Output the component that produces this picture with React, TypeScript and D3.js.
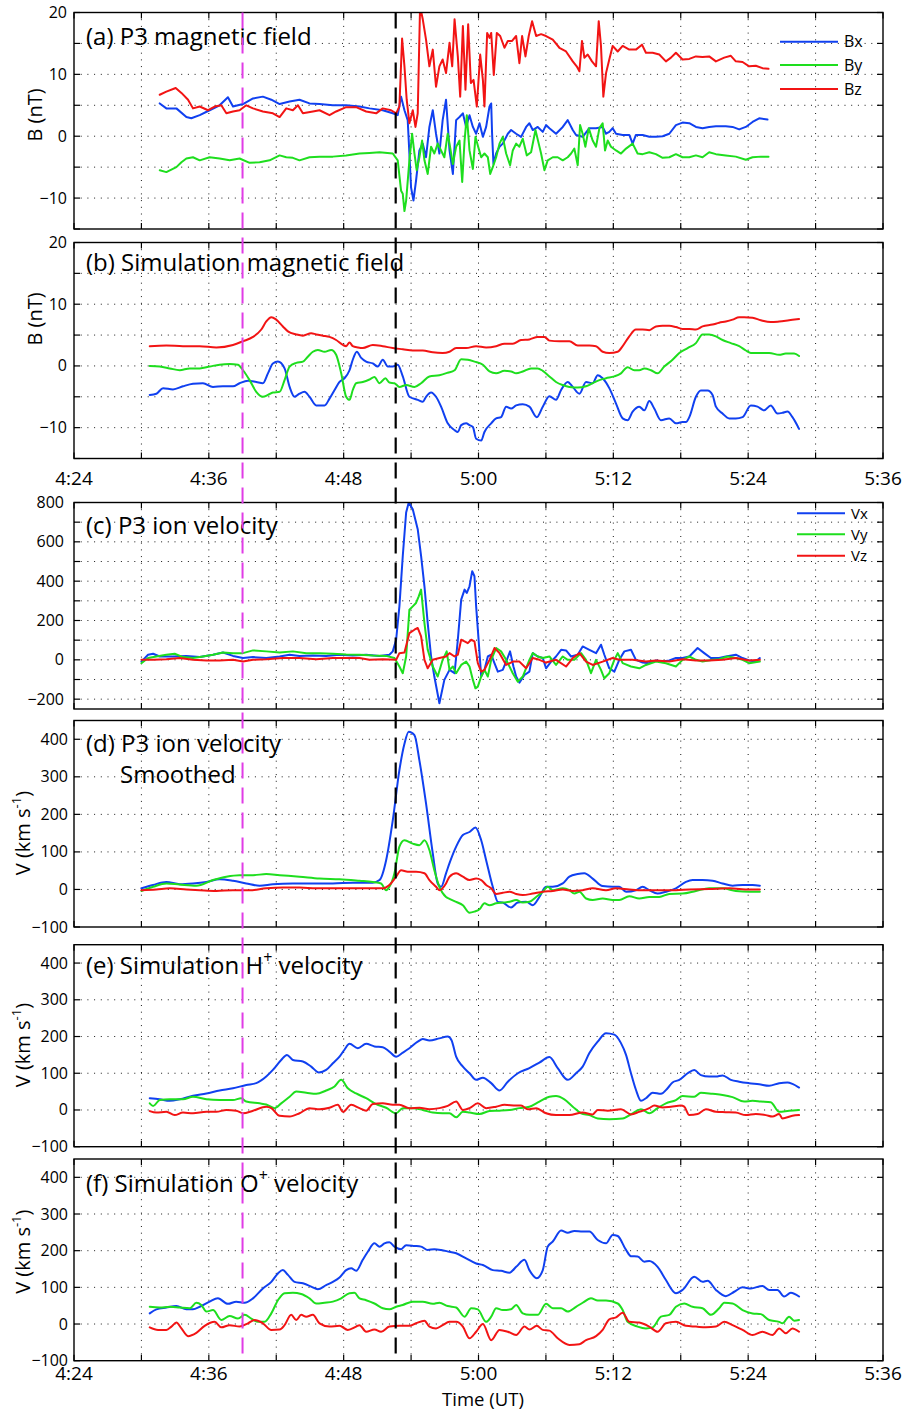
import React from 'react'
import * as d3 from 'd3'

type Pt = [number, number]

// all times are minutes after 04:00 UT

// (a) P3 magnetic field (nT)
const p3Bx: Pt[] = [[31.63,5.3],[32.22,4.5],[33.11,4.5],[34.0,3.1],[34.44,2.9],[35.19,3.4],[36.07,4.2],[36.96,5.0],[37.7,6.3],[38.15,4.8],[39.04,5.2],[39.93,6.1],[40.81,6.4],[41.56,5.9],[42.3,5.2],[43.19,5.6],[44.07,5.9],[44.96,5.3],[45.85,5.2],[47.04,5.0],[48.22,5.0],[49.41,4.8],[50.3,4.5],[51.48,4.2],[52.37,3.7],[52.81,3.4],[53.11,6.4],[53.41,4.2],[53.7,2.6],[54.0,-8.3],[54.21,-10.4],[54.44,-7.2],[54.74,-2.3],[55.04,-1.2],[55.33,-3.4],[55.63,1.5],[55.93,4.2],[56.22,0.4],[56.52,-2.8],[56.81,2.6],[57.11,5.9],[57.42,-2.3],[57.72,-6.1],[58.01,2.6],[58.31,3.1],[58.61,3.7],[58.9,1.5],[59.2,3.4],[59.5,1.5],[59.79,0.4],[60.09,2.1],[60.39,-0.1],[60.68,1.5],[60.98,4.8],[61.13,5.3],[61.21,0.4],[61.33,-4.5],[61.57,-2.8],[61.87,-1.7],[62.16,-1.2],[62.61,0.4],[62.9,1.0],[63.35,0.4],[63.79,-0.1],[64.24,1.5],[64.53,2.1],[64.83,1.0],[65.27,1.5],[65.72,0.7],[66.01,1.8],[66.31,1.3],[66.9,0.4],[67.5,1.5],[67.94,2.6],[68.39,1.0],[68.68,0.2],[69.27,-0.1],[69.87,1.3],[70.46,1.3],[71.05,1.5],[71.35,0.4],[71.64,0.7],[71.94,1.3],[72.24,0.4],[72.83,0.2],[73.42,0.2],[73.72,-1.2],[74.01,0.2],[74.61,0.2],[75.2,-0.1],[75.79,-0.1],[76.39,0],[76.98,0.4],[77.57,1.8],[78.16,2.2],[78.76,2.1],[79.35,1.5],[79.94,1.3],[80.53,1.5],[81.13,1.6],[82.01,1.6],[82.61,1.5],[83.2,1.1],[83.79,1.5],[84.39,2.3],[84.98,2.9],[85.72,2.7]]
const p3By: Pt[] = [[31.63,-5.5],[32.22,-5.8],[33.11,-5.0],[33.56,-4.2],[34.0,-3.6],[34.59,-3.4],[35.19,-3.9],[36.07,-3.4],[36.96,-3.6],[37.85,-3.9],[38.74,-3.6],[39.63,-4.3],[40.52,-4.2],[41.41,-3.9],[42.3,-3.1],[42.89,-3.4],[43.48,-3.5],[44.07,-3.9],[44.96,-3.4],[45.85,-3.3],[47.04,-3.3],[48.22,-3.1],[49.41,-2.8],[50.3,-2.7],[51.19,-2.6],[52.37,-2.8],[52.81,-3.9],[53.11,-8.8],[53.26,-9.3],[53.41,-12.1],[53.56,-10.4],[53.85,-3.9],[54.09,0.4],[54.3,-2.8],[54.5,-5.5],[54.74,-3.4],[54.98,-0.7],[55.19,-3.9],[55.48,-6.1],[55.78,-1.7],[56.07,-2.8],[56.37,-1.2],[56.67,-2.3],[56.96,-3.4],[57.26,0.4],[57.42,-1.2],[57.72,-4.5],[58.01,-1.7],[58.31,-0.7],[58.55,-7.4],[58.76,-0.7],[58.96,3.4],[59.2,-2.3],[59.5,-5.3],[59.73,-0.1],[59.97,-1.7],[60.24,-3.4],[60.53,-2.8],[60.83,-3.4],[61.04,-6.1],[61.27,-5.0],[61.57,-3.4],[61.87,-1.2],[62.16,-0.1],[62.46,-2.8],[62.81,-4.7],[63.05,-2.3],[63.35,-1.2],[63.64,-1.7],[63.94,-0.4],[64.3,-3.1],[64.68,-2.6],[65.07,1.0],[65.36,-1.2],[65.57,-2.8],[65.87,-5.5],[66.16,-3.9],[66.61,-3.4],[67.05,-3.4],[67.5,-3.9],[67.94,-3.4],[68.24,-2.8],[68.53,-2.0],[68.83,-4.7],[69.04,1.8],[69.27,0.4],[69.51,-1.7],[69.81,1.3],[70.16,-0.7],[70.46,-1.7],[70.76,1.3],[71.05,2.1],[71.26,-2.3],[71.5,-0.7],[71.79,-1.7],[72.24,-2.3],[72.68,-2.8],[73.13,-2.0],[73.72,-1.2],[74.16,-2.8],[74.61,-2.9],[75.2,-2.6],[75.79,-2.9],[76.39,-3.5],[76.98,-3.4],[77.57,-2.9],[78.16,-3.4],[78.76,-3.4],[79.35,-3.1],[79.94,-3.4],[80.53,-2.6],[81.13,-2.9],[82.01,-3.1],[82.9,-3.3],[83.79,-3.8],[84.39,-3.4],[85.13,-3.3],[85.81,-3.3]]
const p3Bz: Pt[] = [[31.63,6.7],[32.22,7.2],[33.05,7.8],[33.56,7.0],[34.15,5.9],[34.59,4.5],[35.19,4.8],[35.93,4.2],[36.52,4.8],[37.11,5.0],[37.56,3.7],[38.15,4.0],[38.74,4.2],[39.33,5.0],[39.93,4.5],[40.81,4.0],[41.7,3.7],[42.3,3.1],[42.89,4.5],[43.48,4.2],[43.93,5.0],[44.37,3.7],[45.26,4.0],[45.85,4.2],[46.74,3.4],[47.33,4.0],[48.22,4.7],[49.11,4.7],[50.0,4.0],[50.89,3.7],[51.48,4.5],[52.22,4.2],[52.67,3.7],[52.96,4.8],[53.2,15.8],[53.41,11.3],[53.61,5.9],[53.85,2.1],[54.15,4.2],[54.39,1.5],[54.59,3.7],[54.8,21],[55.04,18.9],[55.33,15.6],[55.63,11.3],[55.93,14.0],[56.22,8.0],[56.52,11.3],[56.81,12.4],[57.11,10.2],[57.42,15.1],[57.66,11.3],[57.87,18.9],[58.16,12.9],[58.37,6.4],[58.61,17.8],[58.84,7.5],[59.08,18.1],[59.32,8.6],[59.56,9.1],[59.85,4.8],[60.15,13.2],[60.39,9.1],[60.53,4.8],[60.77,16.7],[60.98,15.9],[61.13,16.7],[61.36,9.9],[61.63,16.7],[61.93,16.2],[62.31,14.3],[62.61,15.4],[62.99,15.4],[63.35,16.2],[63.64,11.8],[63.88,16.2],[64.18,12.9],[64.47,16.2],[64.77,18.6],[65.13,16.2],[65.57,16.5],[66.01,16.2],[66.61,15.6],[67.2,14.3],[67.79,13.7],[68.39,12.1],[68.74,11.3],[68.98,10.5],[69.21,15.4],[69.42,12.7],[69.72,13.2],[70.1,12.1],[70.46,11.3],[70.7,18.6],[70.9,14.6],[71.11,6.4],[71.35,10.2],[71.64,12.4],[71.94,14.6],[72.39,13.7],[72.83,14.6],[73.42,14.0],[74.01,14.0],[74.55,14.8],[74.9,13.5],[75.5,13.5],[76.09,13.2],[76.68,12.1],[77.13,12.7],[77.57,13.5],[78.16,12.4],[78.76,12.5],[79.35,12.9],[79.94,12.8],[80.53,12.9],[81.13,12.1],[81.87,12.7],[82.46,13.0],[82.9,12.1],[83.5,12.0],[84.09,11.3],[84.68,11.4],[85.27,11.0],[85.81,10.9]]

// (b) simulation magnetic field (nT)
const simBx: Pt[] = [[30.74,-4.7],[31.33,-4.5],[31.93,-3.6],[32.81,-3.8],[33.7,-3.3],[34.59,-2.9],[35.48,-2.8],[36.37,-3.4],[37.26,-3.3],[38.15,-3.3],[38.74,-2.8],[39.48,-2.4],[40.22,-2.6],[40.81,-2.8],[41.26,-1.2],[41.7,0.4],[42.15,0.7],[42.74,-0.4],[43.19,-3.4],[43.63,-5.0],[44.07,-4.5],[44.52,-4.2],[44.96,-5.0],[45.56,-6.4],[46.3,-6.4],[46.74,-5.3],[47.19,-3.9],[47.63,-2.6],[48.07,-2.0],[48.52,-0.7],[48.81,1.0],[49.17,2.3],[49.56,1.3],[50.0,0.7],[50.59,0.4],[51.04,-0.1],[51.48,1.0],[51.93,-0.1],[52.37,-0.1],[52.81,0.2],[53.26,-1.7],[53.85,-5.0],[54.59,-5.5],[55.04,-5.8],[55.33,-5.0],[55.78,-4.3],[56.22,-5.0],[56.67,-6.6],[57.26,-9.3],[57.87,-10.4],[58.16,-10.7],[58.46,-9.6],[58.9,-9.3],[59.2,-9.6],[59.5,-9.9],[59.79,-11.8],[60.24,-12.1],[60.53,-10.7],[61.13,-9.3],[61.57,-8.5],[62.01,-8.3],[62.46,-6.6],[62.9,-6.9],[63.35,-6.4],[63.94,-6.2],[64.53,-6.6],[65.19,-8.3],[65.72,-6.6],[66.31,-4.9],[66.9,-5.5],[67.35,-3.9],[67.94,-2.6],[68.39,-3.4],[68.98,-4.5],[69.57,-2.6],[70.16,-2.8],[70.61,-1.5],[71.05,-2.0],[71.64,-3.6],[72.24,-6.1],[72.83,-8.5],[73.27,-8.8],[73.72,-7.4],[74.31,-6.6],[74.76,-7.2],[75.2,-5.7],[75.64,-6.9],[76.24,-8.8],[76.98,-8.5],[77.57,-9.3],[78.16,-9.1],[78.46,-9.1],[78.76,-8.3],[79.35,-5.0],[79.79,-4.0],[80.39,-4.0],[80.83,-4.7],[81.13,-6.6],[81.72,-7.7],[82.31,-8.5],[82.9,-8.5],[83.5,-8.3],[84.24,-6.4],[84.83,-6.6],[85.42,-7.2],[86.01,-6.4],[86.61,-7.7],[87.05,-7.6],[87.5,-7.4],[87.94,-8.3],[88.53,-10.2]]
const simBy: Pt[] = [[30.74,0],[31.63,-0.1],[32.52,-0.4],[33.41,-0.7],[34.3,-0.4],[35.19,-0.4],[36.07,-0.1],[36.96,0.2],[37.85,0.3],[38.59,0.2],[39.04,-0.7],[39.63,-2.3],[40.22,-4.2],[40.81,-5.0],[41.26,-4.7],[41.7,-4.3],[42.3,-4.2],[42.74,-2.3],[43.19,-0.1],[43.78,0.5],[44.37,0.7],[44.81,1.5],[45.26,2.3],[45.7,2.6],[46.3,2.3],[46.89,2.6],[47.33,1.8],[47.78,-1.2],[48.22,-5.0],[48.52,-5.5],[48.81,-3.9],[49.11,-2.8],[49.7,-2.6],[50.3,-2.2],[50.74,-1.8],[51.19,-2.8],[51.72,-2.0],[52.07,-2.7],[52.52,-2.8],[52.96,-3.4],[53.56,-3.1],[54.3,-3.4],[54.89,-2.8],[55.63,-1.7],[56.52,-1.5],[57.26,-1.1],[57.87,-0.7],[58.46,1.1],[59.05,1.0],[59.64,0.7],[60.39,0.2],[60.98,-0.9],[61.57,-1.2],[62.31,-0.8],[62.9,-0.9],[63.35,-1.2],[63.94,-0.9],[64.68,-0.4],[65.27,-0.4],[65.72,-0.8],[66.31,-1.7],[66.9,-2.6],[67.5,-3.1],[68.09,-3.4],[68.83,-3.5],[69.57,-3.3],[70.16,-2.8],[70.76,-2.3],[71.35,-2.0],[72.09,-1.7],[72.68,-1.2],[73.27,-0.2],[73.87,-0.7],[74.31,-0.7],[74.76,-0.4],[75.35,-0.7],[75.94,-1.2],[76.53,-0.1],[77.27,1.0],[77.87,2.1],[78.61,2.9],[79.35,3.7],[79.94,5.1],[80.53,5.1],[81.13,4.8],[81.72,4.2],[82.46,3.7],[83.2,3.2],[83.79,2.5],[84.24,2.1],[84.98,2.1],[85.87,2.1],[86.76,1.8],[87.35,2.0],[88.09,2.0],[88.53,1.6]]
const simBz: Pt[] = [[30.74,3.2],[32.22,3.3],[33.7,3.2],[35.19,3.2],[36.67,3.0],[38.15,3.4],[39.04,4.0],[39.93,4.7],[40.67,5.9],[41.11,7.2],[41.56,7.9],[42.0,7.5],[42.59,6.4],[43.04,5.6],[43.78,5.1],[44.37,4.9],[45.11,5.3],[45.56,5.1],[46.15,4.9],[46.74,4.7],[47.33,4.2],[47.93,3.4],[48.22,3.2],[48.52,3.8],[48.81,3.2],[49.26,3.0],[49.7,2.9],[50.59,3.4],[51.48,3.2],[52.37,2.9],[53.26,2.7],[54.15,2.5],[55.04,2.5],[55.93,2.2],[56.81,2.1],[57.42,2.3],[58.01,2.9],[58.9,2.9],[59.79,3.2],[60.68,3.0],[61.57,3.2],[62.31,3.6],[63.05,3.6],[63.79,4.2],[64.53,4.3],[65.27,4.7],[65.87,4.7],[66.31,4.1],[67.2,4.0],[68.09,4.0],[68.83,3.3],[69.87,3.3],[70.46,3.2],[71.05,2.3],[71.64,2.1],[72.39,2.3],[72.83,3.2],[73.42,4.8],[74.01,5.9],[74.61,5.9],[75.2,5.8],[75.79,6.4],[76.39,6.5],[76.98,6.5],[77.57,6.3],[78.16,6.0],[78.76,6.0],[79.35,5.9],[79.94,6.4],[80.83,6.7],[81.42,7.0],[82.01,7.2],[82.61,7.5],[83.2,7.9],[83.64,7.9],[84.39,7.8],[85.13,7.4],[86.01,7.1],[86.76,7.2],[87.64,7.4],[88.53,7.6]]

// (c) P3 ion velocity (km/s)
const p3Vx: Pt[] = [[30.0,-9],[30.59,26],[31.04,31],[31.63,17],[32.81,17],[34.0,20],[35.19,14],[36.37,26],[37.26,37],[38.15,20],[39.04,9],[39.93,14],[41.11,9],[42.3,17],[43.19,26],[44.07,20],[45.26,22],[46.44,20],[47.63,26],[48.81,22],[50.0,26],[51.19,20],[52.07,26],[52.37,43],[52.67,102],[52.96,272],[53.26,528],[53.56,749],[53.79,800],[54.15,766],[54.59,664],[54.89,528],[55.19,374],[55.48,187],[55.78,17],[56.07,-85],[56.52,-221],[56.96,-102],[57.42,-51],[57.87,-68],[58.16,102],[58.46,306],[58.76,357],[58.96,340],[59.2,374],[59.44,451],[59.64,425],[59.79,272],[60.03,85],[60.24,-85],[60.53,-51],[60.83,17],[61.13,26],[61.42,-17],[61.72,-60],[62.16,-51],[62.52,0],[62.81,43],[63.11,-34],[63.35,-85],[63.64,-116],[64.09,-77],[64.53,-60],[64.83,34],[65.27,17],[65.72,9],[66.01,-43],[66.46,-9],[66.9,17],[67.35,51],[67.79,48],[68.24,17],[68.83,26],[69.27,68],[69.87,51],[70.46,34],[70.9,77],[71.2,26],[71.64,-43],[72.09,-60],[72.53,0],[72.98,43],[73.57,51],[74.01,0],[74.61,-14],[75.2,-17],[75.79,-3],[76.39,-9],[76.98,-3],[77.57,9],[78.16,9],[78.76,17],[79.5,60],[80.09,34],[80.68,9],[81.42,9],[82.01,17],[82.9,26],[83.5,9],[84.09,-3],[84.68,-9],[85.04,9]]
const p3Vy: Pt[] = [[30.0,-17],[30.59,9],[31.33,17],[32.22,26],[32.96,31],[33.7,14],[34.59,9],[35.48,17],[36.37,26],[37.26,37],[38.15,34],[39.04,34],[39.93,48],[41.11,43],[42.3,37],[43.48,43],[44.67,34],[45.85,34],[47.04,31],[48.22,27],[49.41,26],[50.59,22],[51.78,20],[52.52,9],[52.96,-34],[53.26,-68],[53.56,17],[53.85,255],[54.15,272],[54.44,289],[54.68,323],[54.89,357],[55.19,187],[55.48,51],[55.93,-34],[56.37,-85],[56.81,0],[57.17,43],[57.42,-51],[57.72,-34],[58.01,-68],[58.46,-26],[58.9,-9],[59.2,-34],[59.5,-102],[59.73,-145],[59.94,-136],[60.24,-85],[60.53,-51],[60.83,-85],[61.13,0],[61.57,60],[62.01,43],[62.46,0],[63.05,-68],[63.5,-111],[63.94,-85],[64.53,0],[64.83,34],[65.27,17],[65.72,9],[66.31,17],[66.9,-26],[67.5,17],[67.94,0],[68.53,0],[69.13,34],[69.57,0],[70.01,-68],[70.46,0],[70.9,-51],[71.2,-94],[71.64,-68],[72.09,0],[72.39,34],[72.83,-17],[73.57,-34],[74.31,-43],[74.9,-26],[75.79,-9],[76.68,-17],[77.57,-34],[78.16,0],[78.76,17],[79.35,0],[79.94,-9],[80.83,0],[81.42,3],[82.16,17],[82.9,9],[83.5,0],[84.09,-17],[85.04,-9]]
const p3Vz: Pt[] = [[30.0,0],[31.04,0],[32.22,3],[33.41,9],[34.59,0],[35.78,-3],[36.96,-3],[38.15,0],[39.04,-9],[39.93,0],[41.11,3],[42.59,9],[44.07,9],[45.56,3],[47.04,9],[48.52,9],[49.41,9],[50.3,0],[51.48,3],[52.67,0],[52.96,34],[53.41,37],[53.85,136],[54.3,153],[54.59,162],[54.89,119],[55.19,0],[55.48,-43],[55.93,0],[56.52,9],[57.11,17],[57.42,34],[57.87,17],[58.16,26],[58.46,102],[58.76,94],[59.05,85],[59.35,102],[59.64,94],[59.94,-17],[60.24,-60],[60.53,-51],[60.98,0],[61.42,60],[61.87,34],[62.46,-26],[63.05,-9],[63.64,-9],[64.24,-43],[64.83,9],[65.42,0],[66.01,-14],[66.9,0],[67.79,-34],[68.39,9],[68.98,34],[69.57,-9],[70.16,-26],[71.05,-9],[71.94,9],[72.53,0],[73.72,0],[74.9,-9],[75.79,-3],[76.98,-9],[78.16,3],[79.35,-3],[80.53,-3],[81.72,0],[82.9,9],[84.09,-3],[85.04,0]]

// (d) P3 ion velocity, smoothed (km/s)
const smVx: Pt[] = [[30.0,3],[31.04,12],[32.22,20],[33.41,14],[34.59,16],[35.78,20],[36.96,27],[38.15,23],[39.33,16],[40.52,10],[41.7,14],[43.48,16],[45.26,16],[47.04,16],[48.81,18],[50.59,18],[51.19,25],[51.78,78],[52.37,184],[52.96,318],[53.41,388],[53.79,420],[54.3,411],[54.74,344],[55.33,229],[55.93,96],[56.37,16],[56.67,7],[57.11,43],[57.42,70],[58.01,114],[58.61,145],[59.2,153],[59.73,165],[60.24,131],[60.68,78],[61.27,7],[61.72,-33],[62.16,-35],[62.9,-48],[63.5,-35],[64.24,-33],[64.83,-42],[65.42,-20],[66.01,7],[66.61,7],[67.5,16],[68.09,34],[68.83,41],[69.42,43],[70.16,29],[71.05,9],[71.94,7],[72.53,7],[73.13,-6],[74.01,-2],[74.61,7],[75.2,-2],[75.94,-11],[76.68,-6],[77.57,3],[78.46,20],[79.05,25],[79.94,25],[80.83,23],[81.72,16],[82.61,10],[83.5,12],[84.39,12],[85.04,10]]
const smVy: Pt[] = [[30.0,-4],[31.04,7],[32.22,16],[33.41,13],[34.89,10],[36.37,25],[37.56,34],[38.74,38],[39.93,38],[41.11,41],[42.3,38],[44.07,34],[45.85,29],[47.63,27],[49.41,23],[50.59,20],[51.33,16],[51.78,-2],[52.07,7],[52.52,43],[52.96,114],[53.41,131],[54.15,122],[54.74,118],[55.19,131],[55.63,105],[56.07,51],[56.52,7],[57.11,-20],[57.42,-25],[58.01,-33],[58.61,-42],[59.2,-62],[59.64,-59],[60.09,-53],[60.53,-37],[60.98,-42],[61.57,-37],[62.16,-35],[62.76,-33],[63.35,-28],[63.94,-35],[64.53,-33],[65.13,-20],[65.72,-6],[66.16,7],[66.61,-2],[67.5,3],[68.09,-2],[68.53,-11],[68.98,-6],[69.57,-24],[70.16,-28],[71.05,-24],[71.94,-28],[72.53,-28],[73.42,-18],[74.31,-24],[75.2,-20],[76.09,-20],[76.98,-12],[78.16,-11],[79.35,-4],[80.53,3],[81.72,3],[82.9,-4],[84.09,-6],[85.04,-6]]
const smVz: Pt[] = [[30.0,-2],[31.33,0],[32.52,3],[34.0,0],[35.19,-2],[36.67,-4],[38.15,-2],[39.63,-2],[41.11,3],[42.59,5],[44.07,5],[45.56,3],[47.04,3],[48.81,3],[50.3,3],[51.48,3],[52.07,12],[52.67,34],[53.11,51],[53.7,47],[54.44,47],[55.19,43],[55.63,25],[56.22,7],[56.52,-2],[57.11,16],[57.42,34],[58.01,43],[58.61,34],[59.2,25],[59.79,29],[60.24,25],[60.68,12],[61.13,3],[61.57,-12],[62.16,-9],[62.76,-6],[63.35,-12],[63.94,-15],[64.83,-11],[65.72,-6],[66.61,-4],[67.5,0],[68.39,-4],[69.27,-2],[70.16,3],[71.35,-2],[72.24,3],[73.42,0],[74.61,-2],[75.79,-2],[77.57,-2],[78.76,0],[80.53,1],[82.31,3],[84.09,0],[85.04,0]]

// (e) simulation H+ velocity (km/s)
const hVx: Pt[] = [[30.74,32],[31.63,29],[32.52,25],[33.41,29],[34.59,39],[35.78,45],[36.96,53],[38.15,59],[39.33,68],[40.22,73],[41.11,91],[41.7,109],[42.44,136],[42.95,150],[43.48,136],[44.37,132],[45.11,118],[45.79,102],[46.44,109],[47.04,127],[47.63,145],[48.07,164],[48.52,180],[49.26,168],[50.0,180],[50.74,173],[51.48,171],[52.07,159],[52.67,145],[53.26,156],[53.85,168],[54.59,186],[55.04,193],[55.63,189],[56.52,195],[57.26,200],[57.6,190],[58.01,145],[58.61,118],[59.2,100],[59.79,82],[60.39,88],[61.13,73],[61.87,53],[62.61,77],[63.5,100],[64.53,114],[65.42,129],[66.31,144],[67.05,114],[67.94,82],[68.68,100],[69.27,118],[69.87,155],[70.61,186],[71.35,209],[72.09,205],[72.68,182],[73.13,150],[73.57,100],[74.01,55],[74.46,25],[74.9,32],[75.5,47],[76.24,44],[76.83,59],[77.27,75],[77.87,82],[78.61,100],[79.2,109],[79.79,95],[80.53,91],[81.13,91],[81.72,94],[82.46,82],[83.2,77],[84.09,73],[84.98,70],[85.87,66],[86.76,73],[87.5,75],[87.94,71],[88.53,61]]
const hVy: Pt[] = [[30.74,18],[31.04,11],[31.63,27],[32.52,29],[33.7,29],[34.59,36],[35.78,29],[36.96,27],[38.15,27],[38.89,32],[39.33,23],[40.52,18],[41.11,15],[41.85,5],[42.44,18],[43.19,36],[43.78,50],[44.67,47],[45.56,44],[46.44,53],[47.19,64],[47.78,82],[48.37,59],[49.11,45],[50.0,32],[50.89,16],[51.78,6],[52.67,-9],[53.26,5],[54.15,5],[55.04,0],[55.93,-7],[56.81,-9],[57.42,-9],[58.01,-20],[58.61,-5],[59.2,-7],[60.09,-11],[60.98,-3],[61.87,-2],[62.76,0],[63.64,5],[64.53,9],[65.42,23],[66.31,36],[66.9,38],[67.64,29],[68.39,9],[69.13,-9],[69.87,-14],[70.61,-23],[71.64,-25],[72.83,-23],[73.72,-9],[74.46,2],[75.2,-9],[75.94,5],[76.68,18],[77.57,27],[78.16,38],[79.2,36],[79.79,47],[80.83,44],[81.72,41],[82.61,35],[83.64,23],[84.39,25],[85.13,23],[86.01,21],[86.76,-5],[87.64,-2],[88.53,0]]
const hVz: Pt[] = [[30.74,-3],[31.33,-7],[32.22,-5],[32.96,-14],[33.7,-7],[34.59,-9],[35.78,-5],[36.67,-5],[37.56,0],[38.44,-2],[39.04,-9],[39.93,-2],[41.11,9],[41.56,5],[42.3,-16],[43.19,-18],[44.07,-9],[44.96,5],[45.85,2],[46.74,6],[47.48,14],[47.93,-5],[48.67,14],[49.41,5],[50.0,-2],[50.59,16],[51.48,18],[52.37,14],[52.96,14],[53.85,5],[54.74,6],[55.63,2],[56.52,5],[57.26,11],[58.01,23],[58.61,0],[59.2,5],[59.94,18],[60.68,5],[61.57,9],[62.31,14],[63.35,12],[63.79,12],[64.39,2],[65.13,5],[66.01,-9],[66.9,-14],[68.09,-14],[69.27,-7],[70.16,-12],[70.61,0],[71.5,-2],[72.68,2],[73.57,-12],[74.31,-5],[75.2,5],[75.64,12],[76.39,7],[77.13,9],[78.01,12],[78.31,9],[78.76,-14],[79.5,-11],[80.24,2],[81.13,-5],[82.01,-6],[82.9,-7],[83.79,-14],[84.68,-11],[85.57,-14],[86.16,-18],[86.76,-11],[87.05,-23],[87.94,-16],[88.53,-14]]

// (f) simulation O+ velocity (km/s)
const oVx: Pt[] = [[30.74,29],[31.33,40],[32.22,45],[33.11,49],[34.0,40],[34.59,40],[35.19,47],[36.07,61],[36.81,70],[37.7,55],[38.44,61],[39.19,58],[39.93,70],[40.81,97],[41.56,115],[42.15,138],[42.59,147],[43.04,134],[43.63,115],[44.37,111],[45.11,102],[45.7,95],[46.44,106],[47.04,115],[47.63,127],[48.22,147],[48.67,152],[49.11,145],[49.7,175],[50.15,197],[50.74,220],[51.19,211],[51.63,220],[52.07,223],[52.52,211],[53.11,204],[53.56,215],[54.3,213],[54.89,211],[55.48,202],[56.07,204],[56.67,202],[57.41,197],[58.01,193],[58.9,179],[59.79,165],[60.39,161],[61.27,147],[62.01,145],[62.76,140],[63.35,156],[64.09,175],[64.53,147],[65.19,125],[65.72,147],[66.16,211],[66.61,225],[67.35,255],[67.94,249],[68.53,254],[69.27,252],[69.87,252],[70.61,229],[71.35,220],[71.94,243],[72.39,240],[73.13,202],[73.57,185],[74.16,184],[74.76,170],[75.2,172],[75.94,156],[76.68,120],[77.57,84],[78.16,93],[79.2,129],[79.94,115],[80.39,118],[81.13,93],[82.01,76],[82.76,88],[83.5,100],[84.24,97],[85.27,104],[85.87,93],[86.61,93],[87.2,75],[87.79,85],[88.53,75]]
const oVy: Pt[] = [[30.74,47],[31.63,45],[32.52,47],[33.41,45],[34.3,43],[34.89,58],[35.33,52],[35.78,34],[36.37,38],[37.11,11],[37.85,22],[38.59,15],[39.19,25],[39.78,15],[40.37,6],[40.96,6],[41.56,29],[42.15,65],[42.74,84],[43.48,85],[44.22,82],[44.96,70],[45.56,56],[46.3,58],[47.04,61],[47.78,70],[48.52,84],[48.96,85],[49.41,70],[50.0,65],[50.74,56],[51.48,43],[52.07,40],[52.67,47],[53.26,52],[54.15,61],[55.04,61],[55.93,55],[56.52,58],[57.26,49],[58.01,45],[58.76,20],[59.35,43],[59.94,40],[60.68,6],[61.13,20],[61.57,43],[62.16,38],[62.9,40],[63.35,52],[63.94,29],[64.53,25],[65.27,25],[66.01,55],[66.61,43],[67.35,43],[67.94,34],[68.68,47],[69.27,58],[70.01,70],[70.61,64],[71.35,64],[72.39,56],[72.83,38],[73.27,6],[74.16,-7],[74.9,-12],[75.5,-9],[76.24,20],[76.98,25],[77.57,47],[78.31,56],[79.05,47],[79.94,43],[80.68,25],[81.42,43],[81.87,58],[82.61,56],[83.5,38],[84.39,29],[85.13,27],[85.87,11],[86.76,6],[87.05,2],[87.64,20],[88.09,9],[88.53,11]]
const oVz: Pt[] = [[30.74,-9],[31.48,-16],[32.22,-16],[32.67,-7],[33.11,4],[33.56,-12],[34.15,-33],[34.89,-24],[35.63,-5],[36.52,6],[37.11,-9],[37.85,-3],[38.74,-7],[39.48,2],[40.07,11],[40.81,2],[41.56,-16],[42.3,-15],[42.74,-3],[43.33,25],[43.78,11],[44.22,25],[44.67,20],[45.26,25],[45.85,2],[46.74,-7],[47.63,-5],[48.37,-16],[49.11,-7],[49.41,-3],[50.0,-21],[50.74,-15],[51.33,-21],[52.07,-7],[52.96,-5],[53.85,-5],[54.44,2],[55.19,9],[55.63,-7],[56.22,-12],[56.81,-3],[57.41,6],[58.01,6],[58.61,-7],[59.2,-39],[59.79,-21],[60.39,0],[61.13,-44],[61.87,-16],[62.61,-21],[63.35,-30],[64.09,-7],[64.53,-15],[65.19,-5],[65.72,-16],[66.31,-18],[67.05,-39],[68.09,-57],[68.98,-55],[69.57,-44],[70.46,-33],[71.05,-16],[71.64,13],[72.24,18],[72.83,31],[73.42,6],[74.31,4],[75.2,-7],[75.94,-21],[76.68,2],[77.57,6],[78.46,-5],[79.35,-7],[80.24,-9],[81.13,-7],[81.87,6],[82.61,-3],[83.5,-16],[84.39,-30],[85.27,-21],[86.16,-30],[86.76,-12],[87.35,-25],[87.94,-12],[88.53,-21]]

const legendB = ['Bx', 'By', 'Bz']
const legendV = ['Vx', 'Vy', 'Vz']
const timeLabelTicks = [24, 36, 48, 60, 72, 84, 96]
const substormTime = 39      // magenta dashed line, 04:39
const onsetTime = 52.63      // black dashed line

const COLORS = ['#1040f0', '#1ede1e', '#f21414']
const FONT = '"Open Sans", "Noto Sans", Arial, sans-serif'
const W = 912
const H = 1412
const LEFT = 74
const RIGHT = 883

const x = d3.scaleLinear().domain([24, 96]).range([LEFT, RIGHT])
const fmtTime = (m: number) => `${4 + Math.floor(m / 60)}:${String(m % 60).padStart(2, '0')}`
const fmtNum = (v: number) => (v < 0 ? '\u2212' + Math.abs(v) : String(v))

const VLabel = () => (
  <>V (km s<tspan fontSize={13} baselineShift="super">-1</tspan>)</>
)

const panels = [
  {
    key: 'a', top: 12.5, bottom: 229, domain: [-15, 20], step: 5, labelStep: 10,
    data: [p3Bx, p3By, p3Bz], curve: d3.curveLinear,
    title: <>(a) P3 magnetic field</>, titleY: 45,
    ylabel: <>B (nT)</>, ylabelX: 41.5, ylabelY: 115, tickX: 67,
    legend: { names: legendB, x1: 780, x2: 838, ys: [41.7, 65, 89], size: 16 },
  },
  {
    key: 'b', top: 242.5, bottom: 458.5, domain: [-15, 20], step: 5, labelStep: 10,
    data: [simBx, simBy, simBz], curve: d3.curveMonotoneX,
    title: <>(b) Simulation magnetic field</>, titleY: 271,
    ylabel: <>B (nT)</>, ylabelX: 41.5, ylabelY: 319, tickX: 67, xLabelY: 485,
  },
  {
    key: 'c', top: 502.5, bottom: 709, domain: [-250, 800], step: 100, labelStep: 200,
    data: [p3Vx, p3Vy, p3Vz], curve: d3.curveLinear,
    title: <>(c) P3 ion velocity</>, titleY: 534, tickX: 64,
    legend: { names: legendV, x1: 797, x2: 845, ys: [513.3, 534.3, 555.7], size: 15 },
  },
  {
    key: 'd', top: 720.5, bottom: 927, domain: [-100, 450], step: 100, labelStep: 100,
    data: [smVx, smVy, smVz], curve: d3.curveMonotoneX,
    title: <>(d) P3 ion velocity</>, titleY: 751.5, subtitle: 'Smoothed', subtitleY: 782.5,
    ylabel: <VLabel />, ylabelX: 30, ylabelY: 833, tickX: 68,
  },
  {
    key: 'e', top: 944.7, bottom: 1146.7, domain: [-100, 450], step: 100, labelStep: 100,
    data: [hVx, hVy, hVz], curve: d3.curveMonotoneX,
    title: <>(e) Simulation H<tspan fontSize={16} baselineShift="super">+</tspan> velocity</>, titleY: 974,
    ylabel: <VLabel />, ylabelX: 30, ylabelY: 1045, tickX: 68,
  },
  {
    key: 'f', top: 1159, bottom: 1360.7, domain: [-100, 450], step: 100, labelStep: 100,
    data: [oVx, oVy, oVz], curve: d3.curveMonotoneX,
    title: <>(f) Simulation O<tspan fontSize={16} baselineShift="super">+</tspan> velocity</>, titleY: 1191.5,
    ylabel: <VLabel />, ylabelX: 30, ylabelY: 1251.7, tickX: 68, xLabelY: 1380,
  },
]

function Panel({ cfg }: { cfg: any }) {
  const [d0, d1] = cfg.domain
  const y = d3.scaleLinear().domain(cfg.domain).range([cfg.bottom, cfg.top])
  const line = d3.line<Pt>().x(d => x(d[0])).y(d => y(d[1])).curve(cfg.curve)
  const first = Math.ceil(d0 / cfg.step) * cfg.step
  const yTicks = d3.range(first, d1 + 0.001, cfg.step)
  const xTicks = d3.range(24, 96.001, 6)
  const clipId = `clip-${cfg.key}`
  const tk = 6
  return (
    <g>
      <defs>
        <clipPath id={clipId}>
          <rect x={LEFT} y={cfg.top} width={RIGHT - LEFT} height={cfg.bottom - cfg.top} />
        </clipPath>
      </defs>
      {/* dotted grid */}
      <g stroke="#1a1a1a" strokeWidth={1} strokeDasharray="1 5.7">
        {xTicks.filter(t => t > 24 && t < 96).map(t => (
          <line key={'gx' + t} x1={x(t)} x2={x(t)} y1={cfg.top} y2={cfg.bottom} />
        ))}
        {yTicks.filter(v => v > d0 && v < d1).map(v => (
          <line key={'gy' + v} x1={LEFT} x2={RIGHT} y1={y(v)} y2={y(v)} />
        ))}
      </g>
      {/* inward ticks on all four sides */}
      <g stroke="#000" strokeWidth={1.2}>
        {xTicks.map(t => (
          <g key={'tx' + t}>
            <line x1={x(t)} x2={x(t)} y1={cfg.top} y2={cfg.top + tk} />
            <line x1={x(t)} x2={x(t)} y1={cfg.bottom} y2={cfg.bottom - tk} />
          </g>
        ))}
        {yTicks.map(v => (
          <g key={'ty' + v}>
            <line x1={LEFT} x2={LEFT + tk} y1={y(v)} y2={y(v)} />
            <line x1={RIGHT} x2={RIGHT - tk} y1={y(v)} y2={y(v)} />
          </g>
        ))}
      </g>
      <g clipPath={`url(#${clipId})`}>
        {cfg.data.map((s: Pt[], i: number) => (
          <path key={i} d={line(s) || ''} fill="none" stroke={COLORS[i]} strokeWidth={2}
            strokeLinejoin="round" strokeLinecap="round" />
        ))}
      </g>
      <rect x={LEFT} y={cfg.top} width={RIGHT - LEFT} height={cfg.bottom - cfg.top}
        fill="none" stroke="#000" strokeWidth={1.4} />
      {/* y tick labels */}
      <g fontSize={16} textAnchor="end">
        {yTicks.filter(v => v % cfg.labelStep === 0).map(v => (
          <text key={'yl' + v} x={cfg.tickX} y={y(v) + 5.5}>{fmtNum(v)}</text>
        ))}
      </g>
      {cfg.xLabelY && (
        <g fontSize={19} textAnchor="middle">
          {timeLabelTicks.map(t => (
            <text key={'xl' + t} x={x(t)} y={cfg.xLabelY}>{fmtTime(t)}</text>
          ))}
        </g>
      )}
      <text x={86} y={cfg.titleY} fontSize={24}>{cfg.title}</text>
      {cfg.subtitle && <text x={120} y={cfg.subtitleY} fontSize={24}>{cfg.subtitle}</text>}
      {cfg.ylabel && (
        <text transform={`translate(${cfg.ylabelX},${cfg.ylabelY}) rotate(-90)`}
          textAnchor="middle" fontSize={20}>{cfg.ylabel}</text>
      )}
      {cfg.legend && cfg.legend.names.map((n: string, i: number) => (
        <g key={'lg' + n}>
          <line x1={cfg.legend.x1} x2={cfg.legend.x2} y1={cfg.legend.ys[i]} y2={cfg.legend.ys[i]}
            stroke={COLORS[i]} strokeWidth={2} />
          <text x={cfg.legend.x2 + 6} y={cfg.legend.ys[i] + cfg.legend.size * 0.36}
            fontSize={cfg.legend.size}>{n}</text>
        </g>
      ))}
    </g>
  )
}

export default function App() {
  const yTop = panels[0].top
  const yBot = panels[panels.length - 1].bottom
  return (
    <svg width={W} height={H} viewBox={`0 0 ${W} ${H}`}
      style={{ position: 'absolute', left: 0, top: 0, background: '#fff', display: 'block' }}
      fontFamily={FONT} fill="#000">
      <rect width={W} height={H} fill="#fff" />
      {panels.map(p => <Panel key={p.key} cfg={p} />)}
      <line x1={x(substormTime)} x2={x(substormTime)} y1={yTop} y2={yBot}
        stroke="#e03ce6" strokeWidth={2} strokeDasharray="16 9" />
      <line x1={x(onsetTime)} x2={x(onsetTime)} y1={yTop} y2={yBot}
        stroke="#000" strokeWidth={2.2} strokeDasharray="16 9" />
      <text x={483} y={1406.3} fontSize={18.5} textAnchor="middle">Time (UT)</text>
    </svg>
  )
}
